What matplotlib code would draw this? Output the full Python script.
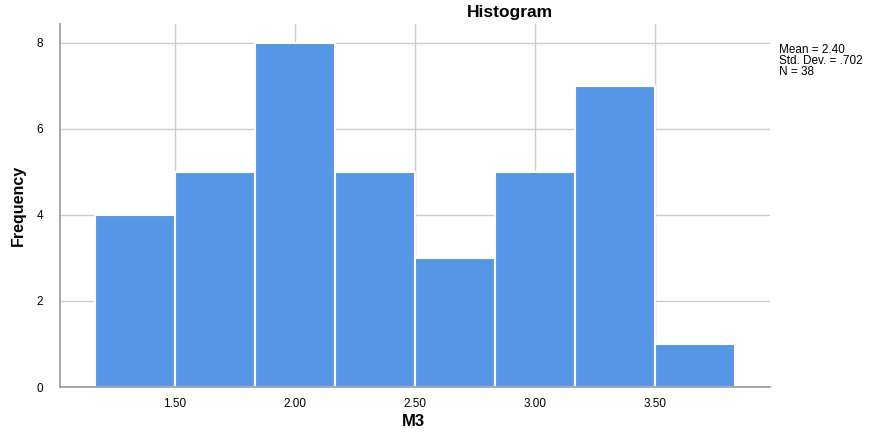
import numpy as np
import matplotlib.pyplot as plt

plt.rcParams['font.family'] = ['Liberation Sans', 'DejaVu Sans']

# histogram of M3 (counts)
bin_edges = [7/6, 9/6, 11/6, 13/6, 15/6, 17/6, 19/6, 21/6, 23/6]
counts = [4, 5, 8, 5, 3, 5, 7, 1]
x_ticks = [1.5, 2.0, 2.5, 3.0, 3.5]
x_labels = ["1.50", "2.00", "2.50", "3.00", "3.50"]
y_ticks = [0, 2, 4, 6, 8]
stats_text = "Mean = 2.40\nStd. Dev. = .702\nN = 38"

fig = plt.figure(figsize=(8.76, 4.34), dpi=100)
ax = fig.add_axes([60/876, 1 - 387/434, 710/876, 363/434])

widths = np.diff(bin_edges)
ax.bar(bin_edges[:-1], counts, width=widths, align="edge",
       color="#5596e5", edgecolor="white", linewidth=1.5, zorder=2)

ax.set_xlim(1.021, 3.979)
ax.set_ylim(0, 8.44)
ax.set_xticks(x_ticks)
ax.set_xticklabels(x_labels)
ax.set_yticks(y_ticks)
ax.grid(True, color="#cccccc", linewidth=1, zorder=0)
ax.set_axisbelow(True)
ax.tick_params(axis="x", length=0, labelsize=8.5, pad=8)
ax.tick_params(axis="y", length=0, labelsize=8.5, pad=12)
for s in ["top", "right"]:
    ax.spines[s].set_visible(False)
for s in ["left", "bottom"]:
    ax.spines[s].set_color("#999999")
    ax.spines[s].set_linewidth(1.2)

# axis titles and stats box placed like the SPSS output
fig.text(413/876, 1 - 422/434, "M3", ha="center", va="center",
         fontsize=12, fontweight="bold")
fig.text(18/876, 1 - 205/434, "Frequency", ha="center", va="center",
         rotation=90, fontsize=11.5, fontweight="bold")
fig.text(510/876, 1 - 13/434, "Histogram", ha="center", va="center",
         fontsize=12.5, fontweight="bold")
fig.text(779/876, 1 - 44/434, stats_text, ha="left", va="top",
         fontsize=8.5, linespacing=0.9)

fig.savefig("out.png", dpi=100)
